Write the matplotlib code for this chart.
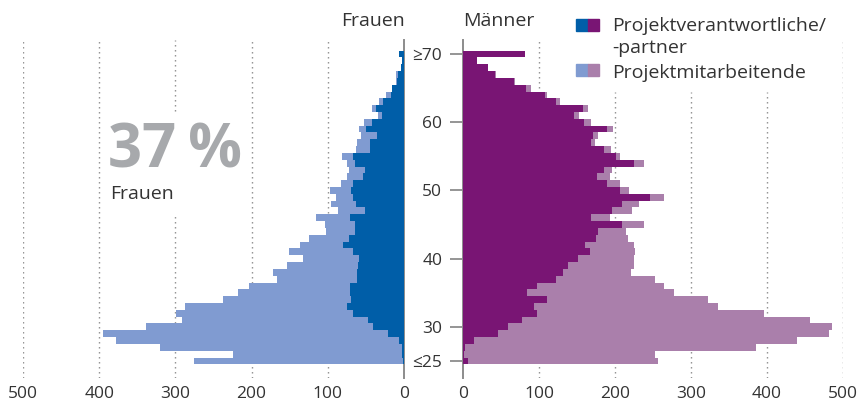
import matplotlib
matplotlib.use("Agg")
import matplotlib.pyplot as plt
import matplotlib.patches as mpatches
import numpy as np

plt.rcParams['font.family'] = ['Open Sans', 'DejaVu Sans']

W, H = 858, 405

# Altersjahre 25 (<=25) .. 70 (>=70)
ages = np.arange(25, 71)

# Frauen: Projektverantwortliche/-partner (pv) und Projektmitarbeitende (pm)
frauen_pv = [1, 2, 3, 7, 21, 41, 47, 67, 75, 70,
             71, 71, 62, 62, 61, 59, 67, 80, 72, 64,
             64, 71, 51, 63, 67, 70, 67, 54, 51, 64,
             67, 45, 45, 36, 50, 42, 29, 37, 28, 17,
             16, 9, 8, 4, 3, 7]
frauen_pm = [274, 223, 317, 371, 374, 298, 244, 232, 213, 167,
             147, 133, 105, 110, 92, 73, 84, 56, 53, 39,
             40, 45, 35, 33, 22, 27, 16, 21, 21, 11,
             15, 18, 17, 20, 9, 11, 5, 5, 5, 7,
             0, 1, 2, 0, 0, 0]

# Männer
maenner_pv = [6, 1, 3, 15, 46, 59, 77, 98, 93, 111,
              84, 97, 123, 132, 138, 151, 167, 161, 175, 178,
              209, 168, 196, 209, 246, 206, 189, 176, 186, 225,
              201, 185, 169, 171, 189, 159, 146, 158, 123, 108,
              83, 67, 42, 33, 18, 82]
maenner_pm = [250, 252, 383, 425, 436, 427, 380, 298, 242, 211,
              193, 167, 129, 89, 87, 74, 59, 64, 42, 37,
              29, 25, 26, 23, 19, 13, 17, 17, 10, 13,
              6, 10, 5, 7, 9, 10, 7, 6, 5, 3,
              6, 2, 2, 0, 0, 0]

xticks = [0, 100, 200, 300, 400, 500]
yticks = [25, 30, 40, 50, 60, 70]
yticklabels = ['≤25', '30', '40', '50', '60', '≥70']

c_f_dark = '#005ea8'
c_f_light = '#809bd1'
c_m_dark = '#791574'
c_m_light = '#aa7fab'
c_text = '#333333'
c_grid = '#8a8a8a'
c_axis = '#8c8c8c'

fig = plt.figure(figsize=(W / 100, H / 100), dpi=100)


def box(x0, x1, y0, y1):
    return [x0 / W, 1 - y1 / H, (x1 - x0) / W, (y1 - y0) / H]


def px(x, y):
    return x / W, 1 - y / H


ylim = (22.5, 72.05)
axL = fig.add_axes(box(23, 404, 40, 378))
axR = fig.add_axes(box(463, 843, 40, 378))

dots = (0, (1, 2.6))

# Frauen (links)
axL.barh(ages, frauen_pv, height=1.0, color=c_f_dark, zorder=3)
axL.barh(ages, frauen_pm, left=frauen_pv, height=1.0, color=c_f_light, zorder=3)
axL.set_xlim(500, 0)
axL.set_ylim(*ylim)
for v in [100, 200, 400, 500]:
    axL.vlines(v, ylim[0], ylim[1], colors=c_grid, linestyles=dots, lw=1, zorder=1)
axL.vlines(300, ylim[0], 46.4, colors=c_grid, linestyles=dots, lw=1, zorder=1)
axL.vlines(300, 61.6, ylim[1], colors=c_grid, linestyles=dots, lw=1, zorder=1)

# Männer (rechts)
axR.barh(ages, maenner_pv, height=1.0, color=c_m_dark, zorder=3)
axR.barh(ages, maenner_pm, left=maenner_pv, height=1.0, color=c_m_light, zorder=3)
axR.set_xlim(0, 500)
axR.set_ylim(*ylim)
for v in [100, 500]:
    axR.vlines(v, ylim[0], ylim[1], colors=c_grid, linestyles=dots, lw=1, zorder=1)
for v in [200, 300, 400]:
    axR.vlines(v, ylim[0], 64.5, colors=c_grid, linestyles=dots, lw=1, zorder=1)

for ax in (axL, axR):
    for s in ax.spines.values():
        s.set_visible(False)
    ax.set_facecolor('none')
    ax.set_xticks(xticks)
    ax.set_xticklabels([str(t) for t in xticks])
    ax.tick_params(axis='x', length=0, pad=6, labelsize=12.5, labelcolor=c_text)

axL.spines['right'].set_visible(True)
axL.spines['right'].set_color(c_axis)
axL.spines['right'].set_linewidth(1.4)
axL.set_yticks([])

axR.spines['left'].set_visible(True)
axR.spines['left'].set_color(c_axis)
axR.spines['left'].set_linewidth(1.4)
axR.set_yticks(yticks)
axR.set_yticklabels(yticklabels)
axR.tick_params(axis='y', length=9.5, width=1.3, color=c_axis, pad=5.5,
                labelsize=12.5, labelcolor=c_text)

# Überschriften
fig.text(*px(405, 26), 'Frauen', ha='right', va='baseline', fontsize=14, color=c_text)
fig.text(*px(463, 26), 'Männer', ha='left', va='baseline', fontsize=14, color=c_text)

# Anteil Frauen
fig.text(*px(108, 168), '37\u2009%', ha='left', va='baseline', fontsize=43,
         fontweight='bold', color='#a7a9ac')
fig.text(*px(110, 199), 'Frauen', ha='left', va='baseline', fontsize=14, color=c_text)

# Legende
for y0, cl, cr in [(19, c_f_dark, c_m_dark), (64, c_f_light, c_m_light)]:
    fig.patches.append(mpatches.Rectangle(px(576, y0 + 12), 11.5 / W, 12 / H,
                                          transform=fig.transFigure, color=cl))
    fig.patches.append(mpatches.Rectangle(px(587.5, y0 + 12), 11.5 / W, 12 / H,
                                          transform=fig.transFigure, color=cr))
fig.text(*px(612, 31), 'Projektverantwortliche/', ha='left', va='baseline',
         fontsize=14, color=c_text)
fig.text(*px(612, 53), '-partner', ha='left', va='baseline', fontsize=14, color=c_text)
fig.text(*px(612, 78), 'Projektmitarbeitende', ha='left', va='baseline',
         fontsize=14, color=c_text)

fig.savefig('out.png', dpi=100)
